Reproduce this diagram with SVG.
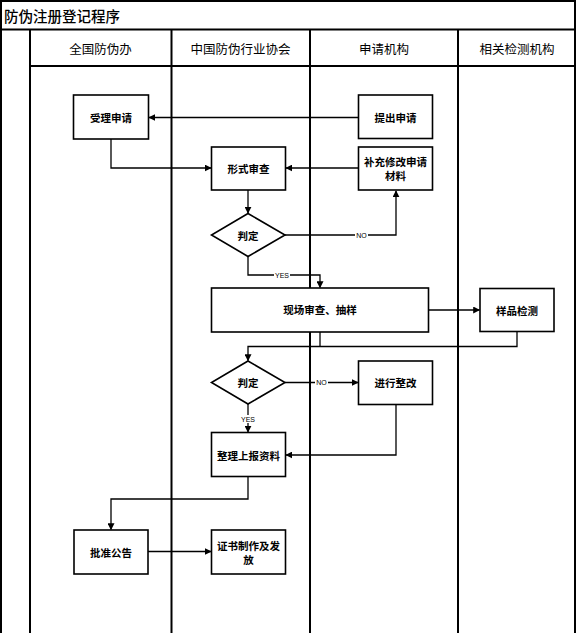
<svg xmlns="http://www.w3.org/2000/svg" width="576" height="633" viewBox="0 0 576 633">
<defs>
<style>
.grid{stroke:#000;stroke-width:2;fill:none}
.box{fill:#fff;stroke:#000;stroke-width:1.6}
.conn{fill:none;stroke:#000;stroke-width:1.3}
.t{font-family:"Noto Sans CJK SC","Liberation Serif",serif;fill:#000;text-anchor:middle;dominant-baseline:central}
.bt{font-size:10.5px;font-weight:700}
.hd{font-size:12.5px}
.lbl{font-family:"Liberation Sans",sans-serif;font-size:7px;fill:#000;text-anchor:middle;dominant-baseline:central}
.lblbg{fill:#fff}
</style>
<marker id="arr" viewBox="0 0 10 10" refX="9" refY="5" markerWidth="7" markerHeight="7" markerUnits="userSpaceOnUse" orient="auto">
<path d="M0,0 L10,5 L0,10 Z" fill="#000"/>
</marker>
</defs>
<rect x="0" y="0" width="576" height="633" fill="#fff"/>
<g id="table">
<line class="grid" x1="0" y1="1" x2="576" y2="1"/>
<line class="grid" x1="1" y1="0" x2="1" y2="633"/>
<line class="grid" x1="575" y1="0" x2="575" y2="633"/>
<line class="grid" x1="0" y1="29.5" x2="576" y2="29.5"/>
<line class="grid" x1="30" y1="66" x2="576" y2="66"/>
<line class="grid" x1="30" y1="29.5" x2="30" y2="633"/>
<line class="grid" x1="171.5" y1="29.5" x2="171.5" y2="633"/>
<line class="grid" x1="310" y1="29.5" x2="310" y2="633"/>
<line class="grid" x1="458" y1="29.5" x2="458" y2="633"/>
<text class="t" x="4" y="15" style="font-size:14.5px;font-weight:500;text-anchor:start">防伪注册登记程序</text>
<text class="t hd" x="100.5" y="48">全国防伪办</text>
<text class="t hd" x="240.5" y="48">中国防伪行业协会</text>
<text class="t hd" x="384" y="48">申请机构</text>
<text class="t hd" x="517" y="48">相关检测机构</text>
</g>
<g id="connectors">
<path class="conn" d="M358,117.5 H149" marker-end="url(#arr)"/>
<path class="conn" d="M111,139 V168 H211" marker-end="url(#arr)"/>
<path class="conn" d="M358,168 H286" marker-end="url(#arr)"/>
<path class="conn" d="M248,190 V213" marker-end="url(#arr)"/>
<path class="conn" d="M285,235 H396 V191" marker-end="url(#arr)"/>
<path class="conn" d="M248,257 V275 H320 V287.5" marker-end="url(#arr)"/>
<path class="conn" d="M428,310 H479.5" marker-end="url(#arr)"/>
<path class="conn" d="M320,332 V346.5"/>
<path class="conn" d="M517,332 V346.5 H248 V360.5" marker-end="url(#arr)"/>
<path class="conn" d="M285,382.5 H358" marker-end="url(#arr)"/>
<path class="conn" d="M248,404 V432" marker-end="url(#arr)"/>
<path class="conn" d="M396,404 V455 H286" marker-end="url(#arr)"/>
<path class="conn" d="M248,477 V499 H111 V529.5" marker-end="url(#arr)"/>
<path class="conn" d="M148,551.5 H211" marker-end="url(#arr)"/>
<rect class="lblbg" x="355" y="231" width="13" height="8"/>
<text class="lbl" x="361.5" y="235">NO</text>
<rect class="lblbg" x="274" y="271" width="16" height="8"/>
<text class="lbl" x="282" y="275">YES</text>
<rect class="lblbg" x="315" y="378.5" width="13" height="8"/>
<text class="lbl" x="321.5" y="382.5">NO</text>
<rect class="lblbg" x="240" y="415" width="16" height="8"/>
<text class="lbl" x="248" y="419">YES</text>
</g>
<g id="n1"><rect class="box" x="73.5" y="95" width="75" height="44"/><text class="t bt" x="111" y="117">受理申请</text></g>
<g id="n2"><rect class="box" x="358.5" y="95" width="74" height="43.5"/><text class="t bt" x="395.5" y="117">提出申请</text></g>
<g id="n3"><rect class="box" x="211.5" y="147" width="74" height="43"/><text class="t bt" x="248.5" y="168">形式审查</text></g>
<g id="n4"><rect class="box" x="358.5" y="147" width="74" height="43"/><text class="t bt" x="395.5" y="161">补充修改申请</text><text class="t bt" x="395.5" y="175">材料</text></g>
<g id="d1"><path class="box" d="M248,213.5 L285,235 L248,256.5 L211.5,235 Z"/><text class="t bt" x="248" y="235">判定</text></g>
<g id="n5"><rect class="box" x="211.5" y="288" width="217" height="44"/><text class="t bt" x="320" y="309">现场审查、抽样</text></g>
<g id="n6"><rect class="box" x="480" y="288.5" width="74" height="43"/><text class="t bt" x="517" y="310">样品检测</text></g>
<g id="d2"><path class="box" d="M248,361 L285,382.5 L248,404 L211.5,382.5 Z"/><text class="t bt" x="248" y="382">判定</text></g>
<g id="n7"><rect class="box" x="358.5" y="361" width="74" height="43.5"/><text class="t bt" x="395.5" y="382">进行整改</text></g>
<g id="n8"><rect class="box" x="211.5" y="432.5" width="74" height="44"/><text class="t bt" x="248.5" y="455">整理上报资料</text></g>
<g id="n9"><rect class="box" x="74" y="530" width="74" height="44"/><text class="t bt" x="111" y="552">批准公告</text></g>
<g id="n10"><rect class="box" x="211.5" y="530" width="74" height="44"/><text class="t bt" x="248.5" y="545">证书制作及发</text><text class="t bt" x="248.5" y="559.5">放</text></g>
</svg>
